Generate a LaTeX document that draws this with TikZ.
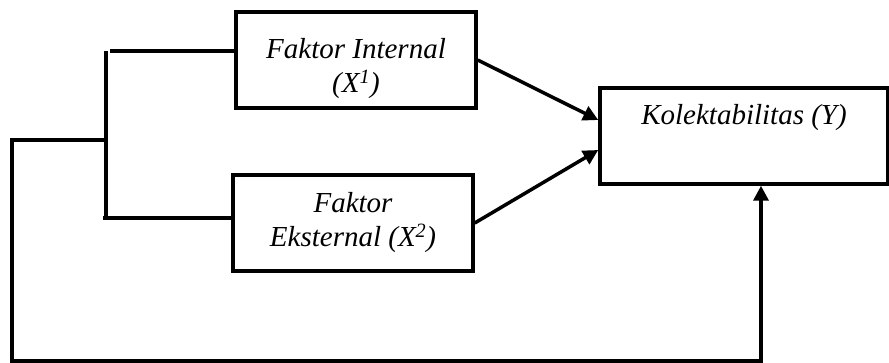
\documentclass[tikz,border=0pt]{standalone}
\usepackage{fontspec}
\setmainfont{Liberation Serif}
\usetikzlibrary{arrows.meta}
\begin{document}
\begin{tikzpicture}[x=1pt,y=-1pt,
  box/.style={draw,line width=3.5pt,rectangle,inner sep=0pt,align=center,
    font=\fontsize{29}{34}\selectfont\itshape},
  wire/.style={line width=3.5pt},
  arr/.style={line width=3.5pt,-{Triangle[length=15pt 0,width=15pt 0]}}]
\useasboundingbox (0,0) rectangle (889,363);
\node[box,minimum width=240pt,minimum height=96pt] (b1) at (356,60)
  {\rule{0pt}{38pt}Faktor Internal\\(X\textsuperscript{1})};
\node[box,minimum width=240pt,minimum height=96pt] (b2) at (353,223)
  {Faktor\\Eksternal (X\textsuperscript{2})};
\node[box,minimum width=288pt,inner ysep=0pt,text height=37pt,text depth=59pt] (y) at (744,136)
  {Kolektabilitas (Y)};
\coordinate (jt) at (106,51);
\coordinate (jm) at (106,140);
\coordinate (jb) at (106,218);
\coordinate (bl) at (12,361);
\draw[wire] (jt) -- (jb);
\draw[wire] ([xshift=4pt]jt) -- (jt -| b1.west);
\draw[wire] ([xshift=-3pt]jb) -- (jb -| b2.west);
\draw[arr] (b1.east) -- ([yshift=16pt]y.west);
\draw[arr] (b2.east) -- ([yshift=-14pt]y.west);
\draw[arr] (jm) -| (bl) -| ([xshift=17pt]y.south);
\end{tikzpicture}
\end{document}
